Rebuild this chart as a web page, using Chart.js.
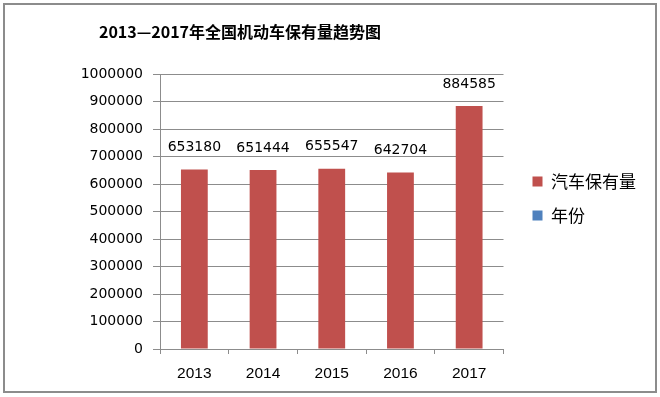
<!DOCTYPE html>
<html>
<head>
<meta charset="utf-8">
<script src="https://cdn.jsdelivr.net/npm/chart.js@4.4.1/dist/chart.umd.min.js"></script>
<style>
    html, body { margin: 0; padding: 0; background: #fff; }
    #wrap { position: relative; width: 660px; height: 397px; }
    #frame {
        position: absolute; left: 3px; top: 3px; width: 650px; height: 386px;
        border: 2px solid #8c8c8c; pointer-events: none;
    }
</style>
</head>
<body>
<div id="wrap">
    <canvas id="carChart" width="660" height="397"></canvas>
    <div id="frame"></div>
</div>
<script>
// Chart data
const years = ['2013', '2014', '2015', '2016', '2017'];
const carCounts = [653180, 651444, 655547, 642704, 884585];
const yearSeries = [null, null, null, null, null];   // legend-only series, nothing drawn
const chartTitle = '2013—2017年全国机动车保有量趋势图';

const colors = {
    red: '#c0504d',
    blue: '#4f81bd',
    grid: '#8c8c8c',
    text: '#000'
};

const cjkFont = '"Noto Sans CJK SC", "Noto Sans", sans-serif';

// Value labels above the bars
const valueLabels = {
    id: 'valueLabels',
    afterDatasetsDraw(chart) {
        const ctx = chart.ctx;
        const meta = chart.getDatasetMeta(0);
        ctx.save();
        ctx.font = '14px "DejaVu Sans"';
        ctx.fillStyle = colors.text;
        ctx.textAlign = 'center';
        ctx.textBaseline = 'middle';
        meta.data.forEach((bar, i) => {
            ctx.fillText(String(carCounts[i]), bar.x, bar.y - 22);
        });
        ctx.restore();
    }
};

// Excel puts the title left of centre and the legend a bit further right
const boxNudge = {
    id: 'boxNudge',
    afterLayout(chart) {
        if (chart.titleBlock) {
            chart.titleBlock.left -= 79;
            chart.titleBlock.right -= 79;
        }
        if (chart.legend) {
            chart.legend.left += 12;
            chart.legend.right += 12;
        }
    }
};

new Chart(document.getElementById('carChart'), {
    type: 'bar',
    data: {
        labels: years,
        datasets: [{
            label: '汽车保有量',
            data: carCounts,
            backgroundColor: colors.red,
            borderColor: colors.red,
            borderWidth: 0,
            grouped: false,
            barPercentage: 0.39,
            categoryPercentage: 1
        }, {
            label: '年份',
            data: yearSeries,
            backgroundColor: colors.blue,
            borderColor: colors.blue,
            borderWidth: 0,
            grouped: false,
            barPercentage: 0.39,
            categoryPercentage: 1
        }]
    },
    options: {
        responsive: false,
        animation: false,
        layout: {
            padding: { top: 4, bottom: 4, left: 4, right: 26 }
        },
        plugins: {
            title: {
                display: true,
                text: chartTitle,
                color: colors.text,
                font: { family: cjkFont, size: 16, weight: 'bold' },
                padding: { top: 18, bottom: 33 }
            },
            legend: {
                position: 'right',
                labels: {
                    color: colors.text,
                    font: { family: cjkFont, size: 17 },
                    boxWidth: 10,
                    boxHeight: 10,
                    padding: 17
                }
            },
            tooltip: { enabled: false }
        },
        scales: {
            x: {
                afterFit: function(scale) { scale.height = 44; },
                grid: {
                    display: true,
                    drawOnChartArea: false,
                    drawTicks: true,
                    tickLength: 5,
                    color: colors.grid
                },
                border: { color: colors.grid, width: 1 },
                ticks: {
                    color: colors.text,
                    padding: 10,
                    font: { family: '"Liberation Sans"', size: 15.5 }
                }
            },
            y: {
                min: 0,
                max: 1000000,
                afterFit: function(scale) { scale.width = 156; },
                grid: {
                    color: colors.grid,
                    tickLength: 7
                },
                border: { color: colors.grid, width: 1 },
                ticks: {
                    stepSize: 100000,
                    color: colors.text,
                    padding: 10,
                    font: { family: '"DejaVu Sans"', size: 14 },
                    callback: function(value) {
                        return String(value);
                    }
                }
            }
        }
    },
    plugins: [valueLabels, boxNudge]
});
</script>
</body>
</html>
